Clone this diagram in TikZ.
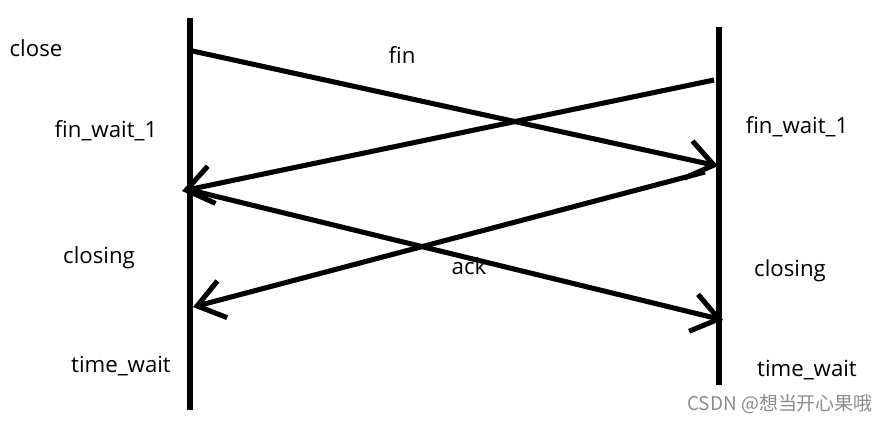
\documentclass[tikz,border=0pt]{standalone}
\usepackage{fontspec}
\setmainfont{Open Sans}
\newfontfamily\cjk{Noto Sans CJK SC}
\usetikzlibrary{arrows.meta}

\tikzset{
  timeline/.style = {line width = 3.8pt},
  msg/.style = {line width = 3.6pt, -{Straight Barb[length = 0.65cm, width = 0.95cm, line width = 3.6pt]}},
  lbl/.style = {font = \fontsize{15.8}{19}\selectfont, inner sep = 0pt}
}

\begin{document}
\begin{tikzpicture}[x = 0.025cm, y = -0.025cm]
\useasboundingbox (0,0) rectangle (892,423);

% two time lines
\coordinate (aTop) at (190,18);  \coordinate (aBot) at (190,410);
\coordinate (bTop) at (719,27);  \coordinate (bBot) at (719,385);
\draw[timeline] (aTop)--(aBot);
\draw[timeline] (bTop)--(bBot);

% end points of the messages
\coordinate (fin1) at (188,50);  \coordinate (fin2) at (718,166);
\coordinate (fin3) at (714,80);  \coordinate (fin4) at (182,191);
\coordinate (ack1) at (190,190); \coordinate (ack2) at (723,320);
\coordinate (ack3) at (705,172); \coordinate (ack4) at (193,307);

\draw[msg] (fin1)--(fin2);
\draw[msg] (fin3)--(fin4);
\draw[msg] (ack1)--(ack2);
\draw[msg] (ack3)--(ack4);

% states
\node[lbl] (closeA) at (36,48) {close};
\node[lbl] (finLbl) at (402,55) {fin};
\node[lbl] (waitA) at (106,131) {fin\_wait\_1};
\node[lbl] (waitB) at (797,127) {fin\_wait\_1};
\node[lbl] (closingA) at (99,258) {closing};
\node[lbl] (ackLbl) at (469,266) {ack};
\node[lbl] (closingB) at (790,271) {closing};
\node[lbl] (timeA) at (121,366) {time\_wait};
\node[lbl] (timeB) at (807,370) {time\_wait};

\node[font = \cjk\fontsize{13.5}{16}\selectfont, text = black!45, inner sep = 0pt] (mark) at (780,404) {CSDN @想当开心果哦};
\end{tikzpicture}
\end{document}
